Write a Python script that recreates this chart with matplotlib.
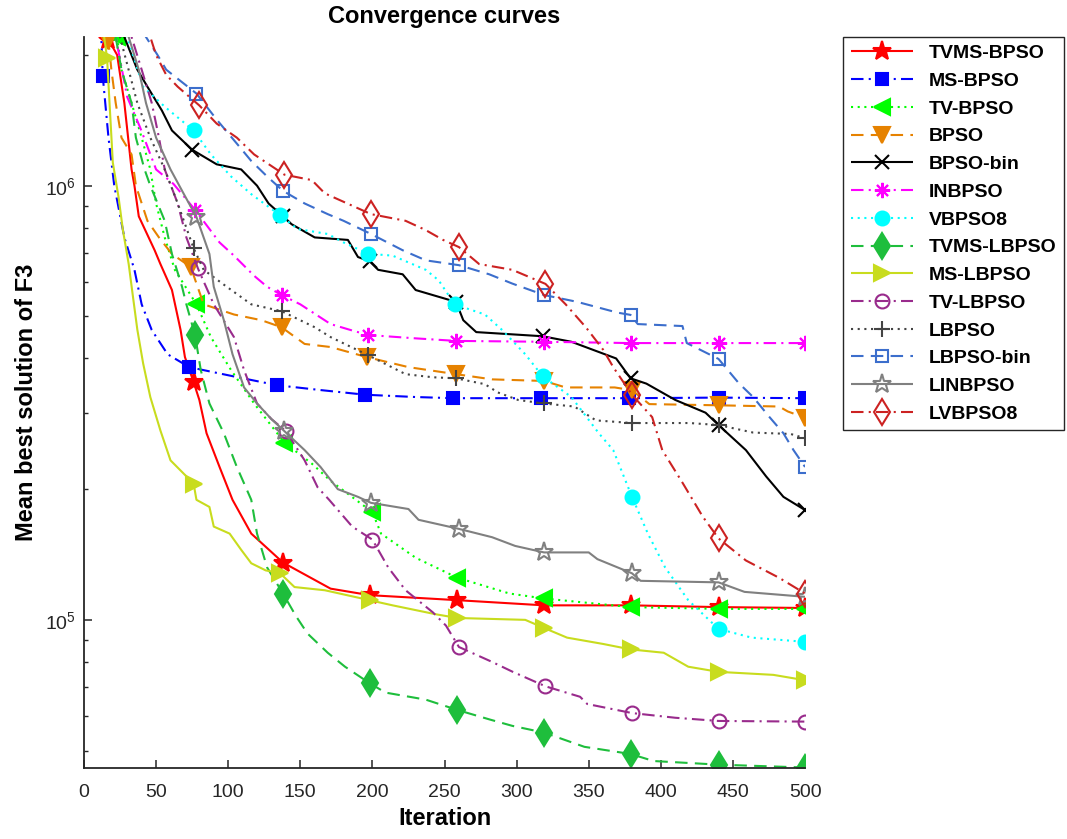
import numpy as np
import matplotlib
matplotlib.use('Agg')
import matplotlib.pyplot as plt
from matplotlib.lines import Line2D
from matplotlib.ticker import FuncFormatter, LogLocator, MultipleLocator

plt.rcParams['font.family'] = ['Liberation Sans', 'DejaVu Sans']

# values (iteration, mean best solution)
tvms_bpso_x = [1, 17, 23, 28, 33, 35, 38, 49, 53, 61, 67, 70, 76, 80, 85, 94, 103, 116, 138, 171, 198, 259, 319, 379, 440, 500]
tvms_bpso_y = [3.5e6, 2.17e6, 2.0e6, 1.55e6, 1.09e6, 1.0e6, 8.5e5, 7.1e5, 6.6e5, 5.75e5, 4.65e5, 4.03e5, 3.53e5, 3.21e5, 2.69e5,
               2.25e5, 1.89e5, 1.58e5, 1.355e5, 1.18e5, 1.14e5, 1.11e5, 1.08e5, 1.08e5, 1.07e5, 1.065e5]

ms_bpso_x = [1, 12, 13, 17, 21, 28, 35, 40, 47, 58, 73, 105, 134, 165, 195, 230, 256, 317, 378, 440, 500]
ms_bpso_y = [3.5e6, 2.2e6, 1.79e6, 1.29e6, 1.0e6, 7.6e5, 6.4e5, 5.33e5, 4.65e5, 4.09e5, 3.82e5, 3.63e5, 3.47e5, 3.38e5,
             3.30e5, 3.26e5, 3.24e5, 3.24e5, 3.24e5, 3.25e5, 3.24e5]

tv_bpso_x = [1, 23, 26, 33, 40, 46, 50, 56, 63, 78, 88, 102, 118, 139, 158, 171, 200, 206, 230, 259, 295, 319, 379, 440, 500]
tv_bpso_y = [3.5e6, 2.2e6, 1.85e6, 1.55e6, 1.29e6, 1.09e6, 9.1e5, 7.6e5, 6.4e5, 5.33e5, 4.48e5, 3.76e5, 3.15e5, 2.56e5,
             2.29e5, 2.09e5, 1.77e5, 1.58e5, 1.39e5, 1.25e5, 1.15e5, 1.12e5, 1.07e5, 1.06e5, 1.06e5]

bpso_x = [1, 17, 19, 22, 26, 33, 36, 44, 52, 61, 74, 83, 104, 123, 137, 153, 171, 196, 225, 258, 283, 319, 334, 368, 380,
          392, 440, 482, 488, 500]
bpso_y = [3.5e6, 2.15e6, 1.85e6, 1.55e6, 1.29e6, 1.18e6, 1.0e6, 8.3e5, 7.6e5, 6.96e5, 6.5e5, 5.33e5, 5.05e5, 4.9e5, 4.72e5,
          4.32e5, 4.25e5, 4.03e5, 3.82e5, 3.68e5, 3.58e5, 3.55e5, 3.43e5, 3.43e5, 3.38e5, 3.14e5, 3.12e5, 3.10e5, 3.02e5, 2.92e5]

bpso_bin_x = [1, 28, 37, 44, 54, 61, 75, 92, 109, 120, 128, 138, 144, 160, 183, 190, 198, 204, 221, 230, 253, 258, 263, 272,
              318, 338, 369, 379, 390, 410, 431, 440, 459, 473, 485, 500]
bpso_bin_y = [3.5e6, 2.2e6, 1.85e6, 1.69e6, 1.49e6, 1.34e6, 1.21e6, 1.12e6, 1.09e6, 1.0e6, 9.1e5, 8.5e5, 8.15e5, 7.6e5,
              7.5e5, 6.85e5, 6.7e5, 6.4e5, 6.25e5, 5.75e5, 5.46e5, 5.4e5, 4.9e5, 4.6e5, 4.5e5, 4.37e5, 4.0e5, 3.6e5, 3.5e5,
              3.21e5, 3.0e5, 2.81e5, 2.46e5, 2.14e5, 1.92e5, 1.79e5]

inbpso_x = [1, 22, 30, 39, 50, 62, 77, 94, 104, 118, 127, 137, 150, 171, 185, 197, 230, 258, 319, 379, 440, 500]
inbpso_y = [3.5e6, 2.2e6, 1.6e6, 1.36e6, 1.09e6, 1.01e6, 8.8e5, 7.4e5, 6.9e5, 6.2e5, 5.85e5, 5.6e5, 5.33e5, 4.8e5, 4.65e5,
            4.53e5, 4.45e5, 4.39e5, 4.37e5, 4.34e5, 4.34e5, 4.34e5]

vbpso8_x = [1, 30, 41, 56, 76, 88, 102, 116, 136, 148, 169, 180, 197, 214, 237, 246, 257, 278, 290, 306, 318, 338, 357, 367,
            380, 391, 403, 419, 440, 463, 500]
vbpso8_y = [3.5e6, 2.2e6, 1.69e6, 1.52e6, 1.34e6, 1.18e6, 1.05e6, 9.56e5, 8.55e5, 7.95e5, 7.74e5, 7.4e5, 6.97e5, 6.9e5,
            6.4e5, 6.05e5, 5.33e5, 5.05e5, 4.65e5, 4.09e5, 3.64e5, 3.26e5, 2.69e5, 2.46e5, 1.92e5, 1.58e5, 1.32e5, 1.11e5,
            9.53e4, 9.1e4, 8.9e4]

tvms_lbpso_x = [1, 22, 26, 33, 36, 42, 46, 56, 61, 68, 71, 77, 81, 87, 97, 106, 116, 120, 127, 138, 147, 155, 169, 181, 198,
                209, 237, 259, 281, 297, 319, 347, 379, 395, 440, 500]
tvms_lbpso_y = [3.5e6, 2.2e6, 1.85e6, 1.55e6, 1.29e6, 1.09e6, 1.0e6, 8.3e5, 6.96e5, 5.85e5, 5.33e5, 4.53e5, 3.76e5, 3.15e5,
                2.69e5, 2.25e5, 1.89e5, 1.58e5, 1.32e5, 1.15e5, 1.02e5, 9.3e4, 8.4e4, 7.8e4, 7.15e4, 6.8e4, 6.55e4, 6.2e4,
                5.9e4, 5.7e4, 5.5e4, 5.1e4, 4.91e4, 4.73e4, 4.64e4, 4.57e4]

ms_lbpso_x = [1, 14, 16, 20, 24, 27, 31, 34, 37, 41, 46, 53, 60, 76, 78, 87, 90, 101, 109, 116, 126, 136, 146, 167, 198, 214,
              244, 259, 306, 319, 335, 360, 379, 402, 419, 440, 478, 500]
ms_lbpso_y = [3.5e6, 2.2e6, 1.97e6, 1.13e6, 9.4e5, 7.9e5, 6.6e5, 5.54e5, 4.66e5, 3.9e5, 3.26e5, 2.73e5, 2.33e5, 2.06e5,
              1.89e5, 1.82e5, 1.64e5, 1.58e5, 1.45e5, 1.35e5, 1.3e5, 1.28e5, 1.19e5, 1.17e5, 1.11e5, 1.08e5, 1.03e5, 1.01e5,
              1.0e5, 9.58e4, 9.1e4, 8.8e4, 8.55e4, 8.4e4, 7.8e4, 7.59e4, 7.47e4, 7.26e4]

tv_lbpso_x = [1, 33, 40, 47, 52, 56, 65, 71, 79, 90, 104, 111, 120, 130, 140, 153, 162, 170, 186, 200, 211, 223, 242, 251,
              260, 283, 297, 320, 344, 349, 380, 410, 440, 500]
tv_lbpso_y = [3.5e6, 2.2e6, 1.85e6, 1.55e6, 1.29e6, 1.09e6, 9.1e5, 7.6e5, 6.45e5, 5.33e5, 4.48e5, 3.76e5, 3.15e5, 2.9e5,
              2.72e5, 2.33e5, 2.02e5, 1.89e5, 1.64e5, 1.53e5, 1.32e5, 1.17e5, 1.04e5, 9.7e4, 8.66e4, 8.0e4, 7.6e4, 7.03e4,
              6.65e4, 6.4e4, 6.1e4, 5.95e4, 5.85e4, 5.83e4]

lbpso_x = [1, 25, 37, 46, 56, 65, 76, 83, 99, 116, 137, 160, 171, 197, 223, 242, 258, 278, 287, 301, 319, 340, 355, 380, 420,
           440, 464, 490, 500]
lbpso_y = [3.5e6, 2.2e6, 1.55e6, 1.29e6, 1.09e6, 9.1e5, 7.18e5, 6.4e5, 5.85e5, 5.33e5, 5.14e5, 4.72e5, 4.48e5, 4.07e5,
           3.68e5, 3.62e5, 3.6e5, 3.49e5, 3.34e5, 3.21e5, 3.15e5, 3.1e5, 2.88e5, 2.84e5, 2.84e5, 2.81e5, 2.7e5, 2.68e5, 2.62e5]

lbpso_bin_x = [1, 43, 51, 57, 78, 92, 106, 116, 127, 138, 153, 169, 180, 199, 221, 237, 260, 281, 297, 319, 342, 370, 379,
               384, 415, 418, 440, 454, 464, 475, 485, 492, 500]
lbpso_bin_y = [3.5e6, 2.2e6, 2.0e6, 1.85e6, 1.63e6, 1.42e6, 1.25e6, 1.14e6, 1.05e6, 9.73e5, 9.1e5, 8.6e5, 8.3e5, 7.74e5,
               7.1e5, 6.73e5, 6.56e5, 6.25e5, 5.95e5, 5.6e5, 5.4e5, 5.1e5, 5.04e5, 4.8e5, 4.75e5, 4.34e5, 3.99e5, 3.51e5,
               3.26e5, 2.94e5, 2.69e5, 2.46e5, 2.25e5]

linbpso_x = [1, 31, 38, 43, 50, 60, 69, 78, 87, 90, 97, 103, 111, 120, 130, 139, 153, 164, 176, 190, 199, 225, 232, 260, 283,
             299, 319, 350, 356, 380, 386, 440, 458, 500]
linbpso_y = [3.5e6, 2.2e6, 1.85e6, 1.55e6, 1.29e6, 1.09e6, 9.6e5, 8.47e5, 6.96e5, 5.85e5, 4.9e5, 4.09e5, 3.43e5, 3.15e5,
             2.9e5, 2.72e5, 2.46e5, 2.25e5, 2.0e5, 1.92e5, 1.86e5, 1.8e5, 1.7e5, 1.62e5, 1.55e5, 1.48e5, 1.43e5, 1.43e5,
             1.38e5, 1.28e5, 1.23e5, 1.22e5, 1.16e5, 1.13e5]

lvbpso8_x = [1, 46, 50, 57, 65, 80, 92, 106, 118, 139, 158, 167, 199, 223, 237, 249, 260, 274, 297, 320, 334, 348, 360, 367,
             380, 394, 401, 415, 429, 440, 459, 482, 500]
lvbpso8_y = [3.5e6, 2.2e6, 2.0e6, 1.8e6, 1.69e6, 1.53e6, 1.39e6, 1.29e6, 1.18e6, 1.06e6, 1.03e6, 9.6e5, 8.6e5, 8.3e5,
             7.9e5, 7.5e5, 7.22e5, 6.6e5, 6.4e5, 5.94e5, 5.33e5, 4.72e5, 4.19e5, 3.82e5, 3.3e5, 2.93e5, 2.46e5, 2.07e5,
             1.73e5, 1.54e5, 1.37e5, 1.25e5, 1.15e5]

labels = ['TVMS-BPSO', 'MS-BPSO', 'TV-BPSO', 'BPSO', 'BPSO-bin', 'INBPSO', 'VBPSO8', 'TVMS-LBPSO',
          'MS-LBPSO', 'TV-LBPSO', 'LBPSO', 'LBPSO-bin', 'LINBPSO', 'LVBPSO8']
xs = [tvms_bpso_x, ms_bpso_x, tv_bpso_x, bpso_x, bpso_bin_x, inbpso_x, vbpso8_x, tvms_lbpso_x,
      ms_lbpso_x, tv_lbpso_x, lbpso_x, lbpso_bin_x, linbpso_x, lvbpso8_x]
ys = [tvms_bpso_y, ms_bpso_y, tv_bpso_y, bpso_y, bpso_bin_y, inbpso_y, vbpso8_y, tvms_lbpso_y,
      ms_lbpso_y, tv_lbpso_y, lbpso_y, lbpso_bin_y, linbpso_y, lvbpso8_y]
first_mark = [17, 13, 20, 17, 1, 1, 1, 1, 16, 1, 1, 1, 1, 1]
mark_iters = [77, 138, 198, 259, 319, 379, 440, 500]

colors = ['#FF0000', '#0000FF', '#00FF00', '#E68200', '#000000', '#FF00FF', '#00FFFF', '#1EBE3C',
          '#C8DC1E', '#992B8C', '#444444', '#3C6ECC', '#808080', '#CC2222']
solid = (0, ())
dashed = (0, (6, 3.5))
dashdot = (0, (6, 2.5, 1, 2.5))
dotted = (0, (1, 2.2))
styles = [solid, dashdot, dotted, dashed, solid, dashdot, dotted, dashed,
          solid, dashdot, dotted, dashed, solid, dashdot]
markers = ['*', 's', '<', 'v', 'x', (8, 2, 0), 'o', 'd', '>', 'o', '+', 's', '*', 'd']
filled = [True, True, True, True, True, True, True, True, True, False, True, False, False, False]
msizes = [14, 9, 11, 11, 10, 11, 10, 13, 11, 10, 12, 9, 14, 13]

fig = plt.figure(figsize=(10.67, 8.39), dpi=100)
ax = fig.add_axes([0.0787, 0.0852, 0.6758, 0.8707])

handles = []
for i in range(len(labels)):
    x = np.array(xs[i])
    y = np.array(ys[i])
    marks = [first_mark[i]] + mark_iters
    idx = sorted(set(int(np.argmin(np.abs(x - m))) for m in marks))
    mfc = colors[i] if filled[i] else 'none'
    ax.plot(x, y, color=colors[i], linestyle=styles[i], linewidth=1.5)
    ax.plot(x[idx], y[idx], linestyle='none', marker=markers[i], markersize=msizes[i],
            markerfacecolor=mfc, markeredgecolor=colors[i], markeredgewidth=1.5)
    handles.append(Line2D([], [], color=colors[i], linestyle=styles[i], linewidth=1.5,
                          marker=markers[i], markersize=msizes[i], markerfacecolor=mfc,
                          markeredgecolor=colors[i], markeredgewidth=1.5))

ax.set_yscale('log')
ax.set_xlim(0, 500)
ax.set_ylim(4.57e4, 2.2e6)
ax.xaxis.set_major_locator(MultipleLocator(50))
ax.yaxis.set_major_locator(LogLocator(base=10))
ax.yaxis.set_minor_locator(LogLocator(base=10, subs=np.arange(2, 10)))
ax.yaxis.set_major_formatter(FuncFormatter(lambda v, p: r'$\mathregular{10^{%d}}$' % round(np.log10(v))))
ax.yaxis.set_minor_formatter(FuncFormatter(lambda v, p: ''))

for s in ['top', 'right']:
    ax.spines[s].set_visible(False)
for s in ['left', 'bottom']:
    ax.spines[s].set_color('#262626')
    ax.spines[s].set_linewidth(1.3)
ax.tick_params(which='major', direction='in', length=5.5, width=1.1, colors='#262626', labelsize=14)
ax.tick_params(which='minor', direction='in', length=3, width=1.0, colors='#262626')
ax.tick_params(axis='x', which='major', pad=12)
ax.tick_params(axis='y', which='major', pad=6)

ax.set_title('Convergence curves', fontsize=17, fontweight='bold', pad=10)
ax.set_xlabel('Iteration', fontsize=17, fontweight='bold', labelpad=4)
ax.set_ylabel('Mean best solution of F3', fontsize=17, fontweight='bold', labelpad=5)

leg = fig.legend(handles, labels, loc='upper left', bbox_to_anchor=(0.790, 0.956),
                 prop={'weight': 'bold', 'size': 14}, handlelength=3.2, numpoints=1,
                 labelspacing=0.52, borderpad=0.4, borderaxespad=0, handletextpad=0.8,
                 fancybox=False, framealpha=1, edgecolor='#262626')
leg.get_frame().set_linewidth(1.0)

fig.savefig('out.png', dpi=100)
